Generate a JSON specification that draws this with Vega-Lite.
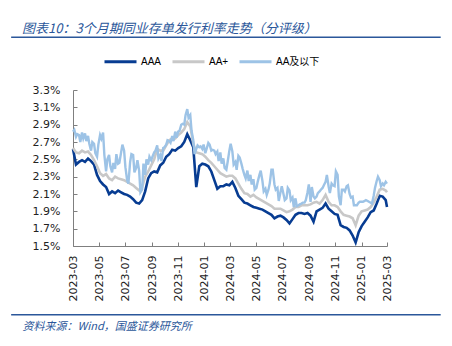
{
  "$schema": "https://vega.github.io/schema/vega-lite/v6.json",
  "width": 314,
  "height": 156,
  "autosize": {"type": "none"},
  "padding": {"left": 73, "top": 90, "right": 65, "bottom": 100},
  "background": "white",
  "config": {
    "view": {"stroke": null}, "font": "Liberation Sans",
    "axisX": {"labelAngle": -90, "labelAlign": "right", "labelBaseline": "middle", "labelFont": "DejaVu Sans", "labelFontSize": 11, "labelColor": "#222222", "labelPadding": 13, "labelFlush": false, "labelOverlap": false, "tickSize": -4, "tickColor": "#7f7f7f", "domainColor": "#7f7f7f", "grid": false, "titleX": -51, "titleY": 83, "titleAlign": "left", "titleAnchor": "start", "titleBaseline": "alphabetic", "titleFont": "Noto Sans CJK SC", "titleFontSize": 11, "titleFontStyle": "italic", "titleFontWeight": "normal", "titleColor": "#2b579a"},
    "axisY": {"labelFont": "DejaVu Sans", "labelFontSize": 11, "labelColor": "#222222", "labelPadding": 17, "labelOverlap": false, "tickSize": -4, "tickColor": "#7f7f7f", "domainColor": "#7f7f7f", "grid": false}
  },
  "title": {
    "text": "图表10：3个月期同业存单发行利率走势（分评级）",
    "anchor": "start", "frame": "group", "dx": -51, "offset": 1,
    "font": "Noto Sans CJK SC", "fontSize": 13, "fontStyle": "italic", "fontWeight": "normal", "color": "#2b579a"
  },
  "layer": [
    {
      "data": {"values": [
        {"date":"2023-03-01","rate":2.62},{"date":"2023-03-08","rate":2.44},{"date":"2023-03-15","rate":2.47},{"date":"2023-03-22","rate":2.49},{"date":"2023-03-29","rate":2.47},
        {"date":"2023-04-05","rate":2.51},{"date":"2023-04-12","rate":2.48},{"date":"2023-04-19","rate":2.44},{"date":"2023-04-26","rate":2.32},
        {"date":"2023-05-03","rate":2.25},{"date":"2023-05-10","rate":2.21},{"date":"2023-05-17","rate":2.18},{"date":"2023-05-24","rate":2.10},{"date":"2023-05-31","rate":2.13},
        {"date":"2023-06-07","rate":2.11},{"date":"2023-06-14","rate":2.14},{"date":"2023-06-21","rate":2.12},{"date":"2023-06-28","rate":2.10},
        {"date":"2023-07-05","rate":2.09},{"date":"2023-07-12","rate":2.07},{"date":"2023-07-19","rate":2.04},{"date":"2023-07-26","rate":2.00},
        {"date":"2023-08-02","rate":1.99},{"date":"2023-08-09","rate":2.03},{"date":"2023-08-16","rate":2.13},{"date":"2023-08-23","rate":2.28},{"date":"2023-08-30","rate":2.34},
        {"date":"2023-09-06","rate":2.36},{"date":"2023-09-13","rate":2.35},{"date":"2023-09-20","rate":2.43},{"date":"2023-09-27","rate":2.46},
        {"date":"2023-10-04","rate":2.53},{"date":"2023-10-11","rate":2.56},{"date":"2023-10-18","rate":2.61},{"date":"2023-10-25","rate":2.60},
        {"date":"2023-11-01","rate":2.63},{"date":"2023-11-08","rate":2.65},{"date":"2023-11-15","rate":2.70},{"date":"2023-11-22","rate":2.79},{"date":"2023-11-29","rate":2.72},
        {"date":"2023-12-06","rate":2.64},{"date":"2023-12-13","rate":2.18},{"date":"2023-12-20","rate":2.42},{"date":"2023-12-27","rate":2.45},
        {"date":"2024-01-03","rate":2.44},{"date":"2024-01-10","rate":2.42},{"date":"2024-01-17","rate":2.36},{"date":"2024-01-24","rate":2.26},{"date":"2024-01-31","rate":2.16},
        {"date":"2024-02-07","rate":2.19},{"date":"2024-02-14","rate":2.19},{"date":"2024-02-21","rate":2.21},{"date":"2024-02-28","rate":2.20},
        {"date":"2024-03-06","rate":2.24},{"date":"2024-03-13","rate":2.17},{"date":"2024-03-20","rate":2.08},{"date":"2024-03-27","rate":2.04},
        {"date":"2024-04-03","rate":2.00},{"date":"2024-04-10","rate":1.99},{"date":"2024-04-17","rate":1.97},{"date":"2024-04-24","rate":1.95},
        {"date":"2024-05-01","rate":1.94},{"date":"2024-05-08","rate":1.93},{"date":"2024-05-15","rate":1.92},{"date":"2024-05-22","rate":1.90},{"date":"2024-05-29","rate":1.88},
        {"date":"2024-06-05","rate":1.86},{"date":"2024-06-12","rate":1.82},{"date":"2024-06-19","rate":1.84},{"date":"2024-06-26","rate":1.85},
        {"date":"2024-07-03","rate":1.83},{"date":"2024-07-10","rate":1.80},{"date":"2024-07-17","rate":1.76},{"date":"2024-07-24","rate":1.81},{"date":"2024-07-31","rate":1.86},
        {"date":"2024-08-07","rate":1.88},{"date":"2024-08-14","rate":1.88},{"date":"2024-08-21","rate":1.87},{"date":"2024-08-28","rate":1.88},
        {"date":"2024-09-04","rate":1.85},{"date":"2024-09-11","rate":1.78},{"date":"2024-09-18","rate":1.90},{"date":"2024-09-25","rate":1.92},
        {"date":"2024-10-02","rate":1.94},{"date":"2024-10-09","rate":1.99},{"date":"2024-10-16","rate":1.93},{"date":"2024-10-23","rate":1.90},{"date":"2024-10-30","rate":1.87},
        {"date":"2024-11-06","rate":1.86},{"date":"2024-11-13","rate":1.74},{"date":"2024-11-20","rate":1.72},{"date":"2024-11-27","rate":1.71},
        {"date":"2024-12-04","rate":1.68},{"date":"2024-12-11","rate":1.62},{"date":"2024-12-18","rate":1.54},{"date":"2024-12-25","rate":1.66},
        {"date":"2025-01-01","rate":1.73},{"date":"2025-01-08","rate":1.78},{"date":"2025-01-15","rate":1.83},{"date":"2025-01-22","rate":1.89},{"date":"2025-01-29","rate":1.91},
        {"date":"2025-02-05","rate":1.99},{"date":"2025-02-12","rate":2.08},{"date":"2025-02-19","rate":2.07},{"date":"2025-02-26","rate":2.03},{"date":"2025-03-01","rate":1.95}
      ]},
      "mark": {"type": "line", "strokeWidth": 2.6},
      "encoding": {
        "x": {"field": "date", "type": "temporal",
          "scale": {"type": "utc", "domain": [{"year": 2023, "month": 3, "date": 1, "utc": true}, {"year": 2025, "month": 3, "date": 1, "utc": true}]},
          "axis": {"values": [{"year": 2023, "month": 3, "date": 1, "utc": true}, {"year": 2023, "month": 5, "date": 1, "utc": true}, {"year": 2023, "month": 7, "date": 1, "utc": true}, {"year": 2023, "month": 9, "date": 1, "utc": true}, {"year": 2023, "month": 11, "date": 1, "utc": true}, {"year": 2024, "month": 1, "date": 1, "utc": true}, {"year": 2024, "month": 3, "date": 1, "utc": true}, {"year": 2024, "month": 5, "date": 1, "utc": true}, {"year": 2024, "month": 7, "date": 1, "utc": true}, {"year": 2024, "month": 9, "date": 1, "utc": true}, {"year": 2024, "month": 11, "date": 1, "utc": true}, {"year": 2025, "month": 1, "date": 1, "utc": true}, {"year": 2025, "month": 3, "date": 1, "utc": true}],
            "labelExpr": "utcFormat(datum.value, '%Y-%m')", "labelOverlap": false, "labelFlush": false, "title": "资料来源：Wind，国盛证券研究所"}},
        "y": {"field": "rate", "type": "quantitative",
          "scale": {"domain": [1.5, 3.3], "nice": false, "zero": false},
          "axis": {"values": [1.5, 1.7, 1.9, 2.1, 2.3, 2.5, 2.7, 2.9, 3.1, 3.3], "labelExpr": "format(datum.value, '.1f') + '%'", "labelOverlap": false, "title": null}},
        "color": {
          "datum": "AAA", "type": "nominal",
          "scale": {"domain": ["AAA", "AA+", "AA及以下"], "range": ["#073c92", "#c8c8c8", "#9dc3e6"]},
          "legend": {
            "orient": "none", "legendX": 30, "legendY": -46, "direction": "horizontal", "title": null,
            "symbolType": "stroke", "symbolSize": 1024, "symbolStrokeWidth": 3,
            "labelFont": "Liberation Sans, Noto Sans CJK SC", "labelFontSize": 10, "labelColor": "#000000",
            "labelOffset": 3, "columnPadding": 4
          }
        }
      }
    },
    {
      "data": {"values": [
        {"date":"2023-03-01","rate":2.63},{"date":"2023-03-08","rate":2.58},{"date":"2023-03-15","rate":2.57},{"date":"2023-03-22","rate":2.60},{"date":"2023-03-29","rate":2.58},
        {"date":"2023-04-05","rate":2.59},{"date":"2023-04-12","rate":2.55},{"date":"2023-04-19","rate":2.49},{"date":"2023-04-26","rate":2.42},
        {"date":"2023-05-03","rate":2.34},{"date":"2023-05-10","rate":2.31},{"date":"2023-05-17","rate":2.33},{"date":"2023-05-24","rate":2.28},{"date":"2023-05-31","rate":2.26},
        {"date":"2023-06-07","rate":2.30},{"date":"2023-06-14","rate":2.28},{"date":"2023-06-21","rate":2.27},{"date":"2023-06-28","rate":2.26},
        {"date":"2023-07-05","rate":2.24},{"date":"2023-07-12","rate":2.22},{"date":"2023-07-19","rate":2.20},{"date":"2023-07-26","rate":2.17},
        {"date":"2023-08-02","rate":2.14},{"date":"2023-08-09","rate":2.18},{"date":"2023-08-16","rate":2.30},{"date":"2023-08-23","rate":2.36},{"date":"2023-08-30","rate":2.43},
        {"date":"2023-09-06","rate":2.50},{"date":"2023-09-13","rate":2.62},{"date":"2023-09-20","rate":2.60},{"date":"2023-09-27","rate":2.60},
        {"date":"2023-10-04","rate":2.66},{"date":"2023-10-11","rate":2.72},{"date":"2023-10-18","rate":2.74},{"date":"2023-10-25","rate":2.74},
        {"date":"2023-11-01","rate":2.78},{"date":"2023-11-08","rate":2.81},{"date":"2023-11-15","rate":2.85},{"date":"2023-11-22","rate":2.93},{"date":"2023-11-29","rate":2.88},
        {"date":"2023-12-06","rate":2.68},{"date":"2023-12-13","rate":2.58},{"date":"2023-12-20","rate":2.57},{"date":"2023-12-27","rate":2.56},
        {"date":"2024-01-03","rate":2.53},{"date":"2024-01-10","rate":2.49},{"date":"2024-01-17","rate":2.46},{"date":"2024-01-24","rate":2.42},{"date":"2024-01-31","rate":2.38},
        {"date":"2024-02-07","rate":2.34},{"date":"2024-02-14","rate":2.32},{"date":"2024-02-21","rate":2.30},{"date":"2024-02-28","rate":2.31},
        {"date":"2024-03-06","rate":2.31},{"date":"2024-03-13","rate":2.28},{"date":"2024-03-20","rate":2.22},{"date":"2024-03-27","rate":2.16},
        {"date":"2024-04-03","rate":2.11},{"date":"2024-04-10","rate":2.10},{"date":"2024-04-17","rate":2.07},{"date":"2024-04-24","rate":2.09},
        {"date":"2024-05-01","rate":2.06},{"date":"2024-05-08","rate":2.04},{"date":"2024-05-15","rate":2.02},{"date":"2024-05-22","rate":2.00},{"date":"2024-05-29","rate":1.98},
        {"date":"2024-06-05","rate":1.96},{"date":"2024-06-12","rate":1.93},{"date":"2024-06-19","rate":1.93},{"date":"2024-06-26","rate":1.93},
        {"date":"2024-07-03","rate":1.91},{"date":"2024-07-10","rate":1.89},{"date":"2024-07-17","rate":1.90},{"date":"2024-07-24","rate":1.92},{"date":"2024-07-31","rate":1.95},
        {"date":"2024-08-07","rate":1.95},{"date":"2024-08-14","rate":1.97},{"date":"2024-08-21","rate":1.97},{"date":"2024-08-28","rate":1.97},
        {"date":"2024-09-04","rate":1.98},{"date":"2024-09-11","rate":2.00},{"date":"2024-09-18","rate":2.01},{"date":"2024-09-25","rate":1.99},
        {"date":"2024-10-02","rate":2.03},{"date":"2024-10-09","rate":2.09},{"date":"2024-10-16","rate":2.01},{"date":"2024-10-23","rate":1.97},{"date":"2024-10-30","rate":1.97},
        {"date":"2024-11-06","rate":1.95},{"date":"2024-11-13","rate":1.90},{"date":"2024-11-20","rate":1.86},{"date":"2024-11-27","rate":1.85},
        {"date":"2024-12-04","rate":1.84},{"date":"2024-12-11","rate":1.82},{"date":"2024-12-18","rate":1.74},{"date":"2024-12-25","rate":1.85},
        {"date":"2025-01-01","rate":1.90},{"date":"2025-01-08","rate":1.91},{"date":"2025-01-15","rate":1.92},{"date":"2025-01-22","rate":1.95},{"date":"2025-01-29","rate":2.00},
        {"date":"2025-02-05","rate":2.07},{"date":"2025-02-12","rate":2.15},{"date":"2025-02-19","rate":2.16},{"date":"2025-02-26","rate":2.14},{"date":"2025-03-01","rate":2.12}
      ]},
      "mark": {"type": "line", "strokeWidth": 2.6},
      "encoding": {
        "x": {"field": "date", "type": "temporal",
          "scale": {"type": "utc", "domain": [{"year": 2023, "month": 3, "date": 1, "utc": true}, {"year": 2025, "month": 3, "date": 1, "utc": true}]},
          "axis": {"values": [{"year": 2023, "month": 3, "date": 1, "utc": true}, {"year": 2023, "month": 5, "date": 1, "utc": true}, {"year": 2023, "month": 7, "date": 1, "utc": true}, {"year": 2023, "month": 9, "date": 1, "utc": true}, {"year": 2023, "month": 11, "date": 1, "utc": true}, {"year": 2024, "month": 1, "date": 1, "utc": true}, {"year": 2024, "month": 3, "date": 1, "utc": true}, {"year": 2024, "month": 5, "date": 1, "utc": true}, {"year": 2024, "month": 7, "date": 1, "utc": true}, {"year": 2024, "month": 9, "date": 1, "utc": true}, {"year": 2024, "month": 11, "date": 1, "utc": true}, {"year": 2025, "month": 1, "date": 1, "utc": true}, {"year": 2025, "month": 3, "date": 1, "utc": true}],
            "labelExpr": "utcFormat(datum.value, '%Y-%m')", "labelOverlap": false, "labelFlush": false, "title": "资料来源：Wind，国盛证券研究所"}},
        "y": {"field": "rate", "type": "quantitative",
          "scale": {"domain": [1.5, 3.3], "nice": false, "zero": false},
          "axis": {"values": [1.5, 1.7, 1.9, 2.1, 2.3, 2.5, 2.7, 2.9, 3.1, 3.3], "labelExpr": "format(datum.value, '.1f') + '%'", "labelOverlap": false, "title": null}},
        "color": {"datum": "AA+", "type": "nominal"}
      }
    },
    {
      "data": {"values": [
        {"date":"2023-03-01","rate":2.82},{"date":"2023-03-04","rate":2.84},{"date":"2023-03-08","rate":2.76},{"date":"2023-03-11","rate":2.79},
        {"date":"2023-03-15","rate":2.78},{"date":"2023-03-18","rate":2.70},{"date":"2023-03-22","rate":2.81},{"date":"2023-03-25","rate":2.74},
        {"date":"2023-03-29","rate":2.80},{"date":"2023-04-01","rate":2.71},{"date":"2023-04-05","rate":2.77},{"date":"2023-04-08","rate":2.68},
        {"date":"2023-04-12","rate":2.60},{"date":"2023-04-15","rate":2.70},{"date":"2023-04-19","rate":2.68},{"date":"2023-04-22","rate":2.57},
        {"date":"2023-04-26","rate":2.53},{"date":"2023-04-29","rate":2.67},{"date":"2023-05-03","rate":2.78},{"date":"2023-05-06","rate":2.74},
        {"date":"2023-05-10","rate":2.81},{"date":"2023-05-13","rate":2.55},{"date":"2023-05-17","rate":2.36},{"date":"2023-05-20","rate":2.50},
        {"date":"2023-05-24","rate":2.55},{"date":"2023-05-27","rate":2.42},{"date":"2023-05-31","rate":2.35},{"date":"2023-06-03","rate":2.46},
        {"date":"2023-06-07","rate":2.39},{"date":"2023-06-10","rate":2.56},{"date":"2023-06-14","rate":2.45},{"date":"2023-06-17","rate":2.46},
        {"date":"2023-06-21","rate":2.58},{"date":"2023-06-24","rate":2.67},{"date":"2023-06-28","rate":2.60},{"date":"2023-07-01","rate":2.41},
        {"date":"2023-07-05","rate":2.26},{"date":"2023-07-08","rate":2.22},{"date":"2023-07-12","rate":2.47},{"date":"2023-07-15","rate":2.56},
        {"date":"2023-07-19","rate":2.55},{"date":"2023-07-22","rate":2.35},{"date":"2023-07-26","rate":2.40},{"date":"2023-07-29","rate":2.49},
        {"date":"2023-08-02","rate":2.37},{"date":"2023-08-05","rate":2.12},{"date":"2023-08-09","rate":2.15},{"date":"2023-08-12","rate":2.45},
        {"date":"2023-08-16","rate":2.32},{"date":"2023-08-19","rate":2.50},{"date":"2023-08-23","rate":2.44},{"date":"2023-08-26","rate":2.53},
        {"date":"2023-08-30","rate":2.49},{"date":"2023-09-02","rate":2.53},{"date":"2023-09-06","rate":2.58},{"date":"2023-09-09","rate":2.60},
        {"date":"2023-09-13","rate":2.66},{"date":"2023-09-16","rate":2.51},{"date":"2023-09-20","rate":2.55},{"date":"2023-09-23","rate":2.48},
        {"date":"2023-09-27","rate":2.63},{"date":"2023-09-30","rate":2.64},{"date":"2023-10-04","rate":2.67},{"date":"2023-10-07","rate":2.72},
        {"date":"2023-10-11","rate":2.71},{"date":"2023-10-14","rate":2.69},{"date":"2023-10-18","rate":2.77},{"date":"2023-10-21","rate":2.71},
        {"date":"2023-10-25","rate":2.82},{"date":"2023-10-28","rate":2.75},{"date":"2023-11-01","rate":2.82},{"date":"2023-11-04","rate":2.83},
        {"date":"2023-11-08","rate":2.90},{"date":"2023-11-11","rate":2.91},{"date":"2023-11-15","rate":2.90},{"date":"2023-11-18","rate":3.01},
        {"date":"2023-11-22","rate":3.08},{"date":"2023-11-25","rate":2.98},{"date":"2023-11-29","rate":3.01},{"date":"2023-12-02","rate":2.83},
        {"date":"2023-12-06","rate":2.72},{"date":"2023-12-09","rate":2.56},{"date":"2023-12-13","rate":2.62},{"date":"2023-12-16","rate":2.66},
        {"date":"2023-12-20","rate":2.64},{"date":"2023-12-23","rate":2.65},{"date":"2023-12-27","rate":2.62},{"date":"2023-12-30","rate":2.67},
        {"date":"2024-01-03","rate":2.57},{"date":"2024-01-06","rate":2.62},{"date":"2024-01-10","rate":2.69},{"date":"2024-01-13","rate":2.67},
        {"date":"2024-01-17","rate":2.60},{"date":"2024-01-20","rate":2.61},{"date":"2024-01-24","rate":2.60},{"date":"2024-01-27","rate":2.56},
        {"date":"2024-01-31","rate":2.59},{"date":"2024-02-03","rate":2.48},{"date":"2024-02-07","rate":2.58},{"date":"2024-02-10","rate":2.45},
        {"date":"2024-02-14","rate":2.51},{"date":"2024-02-17","rate":2.40},{"date":"2024-02-21","rate":2.38},{"date":"2024-02-24","rate":2.47},
        {"date":"2024-02-28","rate":2.60},{"date":"2024-03-02","rate":2.68},{"date":"2024-03-06","rate":2.59},{"date":"2024-03-09","rate":2.44},
        {"date":"2024-03-13","rate":2.47},{"date":"2024-03-16","rate":2.38},{"date":"2024-03-20","rate":2.54},{"date":"2024-03-23","rate":2.52},
        {"date":"2024-03-27","rate":2.45},{"date":"2024-03-30","rate":2.39},{"date":"2024-04-03","rate":2.32},{"date":"2024-04-06","rate":2.28},
        {"date":"2024-04-10","rate":2.37},{"date":"2024-04-13","rate":2.25},{"date":"2024-04-17","rate":2.32},{"date":"2024-04-20","rate":2.21},
        {"date":"2024-04-24","rate":2.27},{"date":"2024-04-27","rate":2.15},{"date":"2024-05-01","rate":2.17},{"date":"2024-05-04","rate":2.24},
        {"date":"2024-05-08","rate":2.32},{"date":"2024-05-11","rate":2.37},{"date":"2024-05-15","rate":2.25},{"date":"2024-05-18","rate":2.13},
        {"date":"2024-05-22","rate":2.16},{"date":"2024-05-25","rate":2.09},{"date":"2024-05-29","rate":2.15},{"date":"2024-06-01","rate":2.22},
        {"date":"2024-06-05","rate":2.38},{"date":"2024-06-08","rate":2.38},{"date":"2024-06-12","rate":2.21},{"date":"2024-06-15","rate":2.15},
        {"date":"2024-06-19","rate":2.17},{"date":"2024-06-22","rate":2.02},{"date":"2024-06-26","rate":2.12},{"date":"2024-06-29","rate":2.19},
        {"date":"2024-07-03","rate":2.10},{"date":"2024-07-06","rate":2.03},{"date":"2024-07-10","rate":2.05},{"date":"2024-07-13","rate":2.17},
        {"date":"2024-07-17","rate":2.14},{"date":"2024-07-20","rate":2.03},{"date":"2024-07-24","rate":2.06},{"date":"2024-07-27","rate":1.95},
        {"date":"2024-07-31","rate":2.05},{"date":"2024-08-03","rate":1.96},{"date":"2024-08-07","rate":1.97},{"date":"2024-08-10","rate":1.98},
        {"date":"2024-08-14","rate":1.99},{"date":"2024-08-17","rate":2.00},{"date":"2024-08-21","rate":2.00},{"date":"2024-08-24","rate":2.03},
        {"date":"2024-08-28","rate":2.12},{"date":"2024-08-31","rate":2.21},{"date":"2024-09-04","rate":2.01},{"date":"2024-09-07","rate":2.18},
        {"date":"2024-09-11","rate":2.07},{"date":"2024-09-14","rate":2.05},{"date":"2024-09-18","rate":2.07},{"date":"2024-09-21","rate":2.11},
        {"date":"2024-09-25","rate":2.13},{"date":"2024-09-28","rate":2.15},{"date":"2024-10-02","rate":2.17},{"date":"2024-10-05","rate":2.20},
        {"date":"2024-10-09","rate":2.24},{"date":"2024-10-12","rate":2.32},{"date":"2024-10-16","rate":2.19},{"date":"2024-10-19","rate":2.11},
        {"date":"2024-10-23","rate":2.22},{"date":"2024-10-26","rate":2.20},{"date":"2024-10-30","rate":2.19},{"date":"2024-11-02","rate":2.36},
        {"date":"2024-11-06","rate":2.32},{"date":"2024-11-09","rate":2.07},{"date":"2024-11-13","rate":1.97},{"date":"2024-11-16","rate":2.15},
        {"date":"2024-11-20","rate":2.15},{"date":"2024-11-23","rate":2.13},{"date":"2024-11-27","rate":2.19},{"date":"2024-11-30","rate":2.20},
        {"date":"2024-12-04","rate":2.10},{"date":"2024-12-07","rate":2.06},{"date":"2024-12-11","rate":2.07},{"date":"2024-12-14","rate":1.97},
        {"date":"2024-12-18","rate":1.97},{"date":"2024-12-21","rate":1.97},{"date":"2024-12-25","rate":2.00},{"date":"2024-12-28","rate":2.01},
        {"date":"2025-01-01","rate":2.01},{"date":"2025-01-04","rate":2.01},{"date":"2025-01-08","rate":2.02},{"date":"2025-01-11","rate":2.03},
        {"date":"2025-01-15","rate":2.02},{"date":"2025-01-18","rate":2.01},{"date":"2025-01-22","rate":2.00},{"date":"2025-01-25","rate":1.99},
        {"date":"2025-01-29","rate":2.08},{"date":"2025-02-01","rate":2.17},{"date":"2025-02-05","rate":2.25},{"date":"2025-02-08","rate":2.30},
        {"date":"2025-02-12","rate":2.26},{"date":"2025-02-15","rate":2.19},{"date":"2025-02-19","rate":2.22},{"date":"2025-02-22","rate":2.20},
        {"date":"2025-02-26","rate":2.24},{"date":"2025-03-01","rate":2.22}
      ]},
      "mark": {"type": "line", "strokeWidth": 2.4},
      "encoding": {
        "x": {"field": "date", "type": "temporal",
          "scale": {"type": "utc", "domain": [{"year": 2023, "month": 3, "date": 1, "utc": true}, {"year": 2025, "month": 3, "date": 1, "utc": true}]},
          "axis": {"values": [{"year": 2023, "month": 3, "date": 1, "utc": true}, {"year": 2023, "month": 5, "date": 1, "utc": true}, {"year": 2023, "month": 7, "date": 1, "utc": true}, {"year": 2023, "month": 9, "date": 1, "utc": true}, {"year": 2023, "month": 11, "date": 1, "utc": true}, {"year": 2024, "month": 1, "date": 1, "utc": true}, {"year": 2024, "month": 3, "date": 1, "utc": true}, {"year": 2024, "month": 5, "date": 1, "utc": true}, {"year": 2024, "month": 7, "date": 1, "utc": true}, {"year": 2024, "month": 9, "date": 1, "utc": true}, {"year": 2024, "month": 11, "date": 1, "utc": true}, {"year": 2025, "month": 1, "date": 1, "utc": true}, {"year": 2025, "month": 3, "date": 1, "utc": true}],
            "labelExpr": "utcFormat(datum.value, '%Y-%m')", "labelOverlap": false, "labelFlush": false, "title": "资料来源：Wind，国盛证券研究所"}},
        "y": {"field": "rate", "type": "quantitative",
          "scale": {"domain": [1.5, 3.3], "nice": false, "zero": false},
          "axis": {"values": [1.5, 1.7, 1.9, 2.1, 2.3, 2.5, 2.7, 2.9, 3.1, 3.3], "labelExpr": "format(datum.value, '.1f') + '%'", "labelOverlap": false, "title": null}},
        "color": {"datum": "AA及以下", "type": "nominal"}
      }
    },
    {
      "data": {"values": [{}]},
      "mark": {"type": "rule", "color": "#2b579a", "strokeWidth": 1.6, "clip": false},
      "encoding": {
        "x": {"datum": {"year": 2022, "month": 10, "date": 8, "utc": true}, "type": "temporal",
          "scale": {"type": "utc", "domain": [{"year": 2023, "month": 3, "date": 1, "utc": true}, {"year": 2025, "month": 3, "date": 1, "utc": true}]},
          "axis": {"values": [{"year": 2023, "month": 3, "date": 1, "utc": true}, {"year": 2023, "month": 5, "date": 1, "utc": true}, {"year": 2023, "month": 7, "date": 1, "utc": true}, {"year": 2023, "month": 9, "date": 1, "utc": true}, {"year": 2023, "month": 11, "date": 1, "utc": true}, {"year": 2024, "month": 1, "date": 1, "utc": true}, {"year": 2024, "month": 3, "date": 1, "utc": true}, {"year": 2024, "month": 5, "date": 1, "utc": true}, {"year": 2024, "month": 7, "date": 1, "utc": true}, {"year": 2024, "month": 9, "date": 1, "utc": true}, {"year": 2024, "month": 11, "date": 1, "utc": true}, {"year": 2025, "month": 1, "date": 1, "utc": true}, {"year": 2025, "month": 3, "date": 1, "utc": true}],
            "labelExpr": "utcFormat(datum.value, '%Y-%m')", "labelOverlap": false, "labelFlush": false, "title": "资料来源：Wind，国盛证券研究所"}},
        "x2": {"datum": {"year": 2025, "month": 7, "date": 4, "utc": true}},
        "y": {"datum": 3.908, "type": "quantitative",
          "scale": {"domain": [1.5, 3.3], "nice": false, "zero": false},
          "axis": {"values": [1.5, 1.7, 1.9, 2.1, 2.3, 2.5, 2.7, 2.9, 3.1, 3.3], "labelExpr": "format(datum.value, '.1f') + '%'", "labelOverlap": false, "title": null}}
      }
    },
    {
      "data": {"values": [{}]},
      "mark": {"type": "rule", "color": "#2b579a", "strokeWidth": 1.6, "clip": false},
      "encoding": {
        "x": {"datum": {"year": 2022, "month": 10, "date": 8, "utc": true}, "type": "temporal",
          "scale": {"type": "utc", "domain": [{"year": 2023, "month": 3, "date": 1, "utc": true}, {"year": 2025, "month": 3, "date": 1, "utc": true}]},
          "axis": {"values": [{"year": 2023, "month": 3, "date": 1, "utc": true}, {"year": 2023, "month": 5, "date": 1, "utc": true}, {"year": 2023, "month": 7, "date": 1, "utc": true}, {"year": 2023, "month": 9, "date": 1, "utc": true}, {"year": 2023, "month": 11, "date": 1, "utc": true}, {"year": 2024, "month": 1, "date": 1, "utc": true}, {"year": 2024, "month": 3, "date": 1, "utc": true}, {"year": 2024, "month": 5, "date": 1, "utc": true}, {"year": 2024, "month": 7, "date": 1, "utc": true}, {"year": 2024, "month": 9, "date": 1, "utc": true}, {"year": 2024, "month": 11, "date": 1, "utc": true}, {"year": 2025, "month": 1, "date": 1, "utc": true}, {"year": 2025, "month": 3, "date": 1, "utc": true}],
            "labelExpr": "utcFormat(datum.value, '%Y-%m')", "labelOverlap": false, "labelFlush": false, "title": "资料来源：Wind，国盛证券研究所"}},
        "x2": {"datum": {"year": 2025, "month": 7, "date": 4, "utc": true}},
        "y": {"datum": 0.707, "type": "quantitative",
          "scale": {"domain": [1.5, 3.3], "nice": false, "zero": false},
          "axis": {"values": [1.5, 1.7, 1.9, 2.1, 2.3, 2.5, 2.7, 2.9, 3.1, 3.3], "labelExpr": "format(datum.value, '.1f') + '%'", "labelOverlap": false, "title": null}}
      }
    }
  ]
}
